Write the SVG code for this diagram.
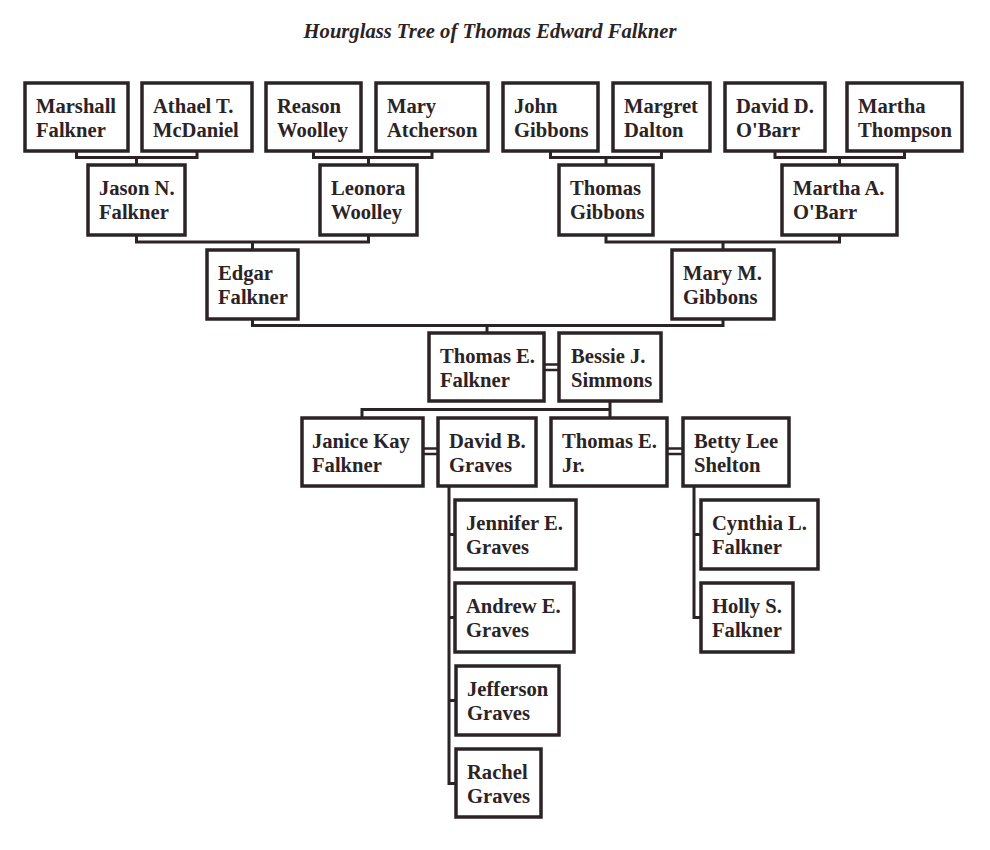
<svg xmlns="http://www.w3.org/2000/svg" width="990" height="850" viewBox="0 0 990 850">
<style>
.box{fill:#fff;stroke:#2b2325;stroke-width:3.5}
.t{font-family:"Liberation Serif","Times New Roman",serif;font-weight:bold;font-size:20.6px;fill:#2b2325}
.title{font-family:"Liberation Serif","Times New Roman",serif;font-weight:bold;font-style:italic;font-size:20.6px;fill:#2b2325}
.c{fill:none;stroke:#2b2325;stroke-width:3}
.d{fill:none;stroke:#2b2325;stroke-width:2.4}
</style>
<rect width="990" height="850" fill="#fff"/>
<text class="title" x="490" y="38" text-anchor="middle">Hourglass Tree of Thomas Edward Falkner</text>
<g id="connectors">
<path class="c" d="M76.5 151V157.5H197V151M136.5 157.5V165"/>
<path class="c" d="M313.5 151V157.5H432V151M368.5 157.5V165"/>
<path class="c" d="M550.5 151V157.5H661.5V151M606 157.5V165"/>
<path class="c" d="M775 151V157.5H904.5V151M839.5 157.5V165"/>
<path class="c" d="M136.5 235V242H368.5V235M252.5 242V250"/>
<path class="c" d="M606 235V242H839.5V235M723 242V250"/>
<path class="c" d="M252.5 319V325.5H723V319M487 325.5V333"/>
<path class="d" d="M544 364.5H559M544 370H559"/>
<path class="c" d="M610 401V409.5M362 418V409.5H610V418"/>
<path class="d" d="M423 448.5H438M423 454H438"/>
<path class="d" d="M667 448.5H683M667 454H683"/>
<path class="c" d="M449 486V783.5H456M449 534.5H455M449 617.5H455M449 700.5H456"/>
<path class="c" d="M694 486V617.5H701M694 534.5H701"/>
</g>
<g id="marshall"><rect class="box" x="25" y="83" width="103" height="68"/><text class="t" x="36" y="112.5">Marshall</text><text class="t" x="36" y="136.5">Falkner</text></g>
<g id="athael"><rect class="box" x="142" y="83" width="110" height="68"/><text class="t" x="153" y="112.5">Athael T.</text><text class="t" x="153" y="136.5">McDaniel</text></g>
<g id="reason"><rect class="box" x="266" y="83" width="95" height="68"/><text class="t" x="277" y="112.5">Reason</text><text class="t" x="277" y="136.5">Woolley</text></g>
<g id="mary-atcherson"><rect class="box" x="376" y="83" width="112" height="68"/><text class="t" x="387" y="112.5">Mary</text><text class="t" x="387" y="136.5">Atcherson</text></g>
<g id="john"><rect class="box" x="503" y="83" width="95" height="68"/><text class="t" x="514" y="112.5">John</text><text class="t" x="514" y="136.5">Gibbons</text></g>
<g id="margret"><rect class="box" x="613" y="83" width="97" height="68"/><text class="t" x="624" y="112.5">Margret</text><text class="t" x="624" y="136.5">Dalton</text></g>
<g id="david-obarr"><rect class="box" x="725" y="83" width="100" height="68"/><text class="t" x="736" y="112.5">David D.</text><text class="t" x="736" y="136.5">O'Barr</text></g>
<g id="martha-thompson"><rect class="box" x="847" y="83" width="115" height="68"/><text class="t" x="858" y="112.5">Martha</text><text class="t" x="858" y="136.5">Thompson</text></g>
<g id="jason"><rect class="box" x="88" y="165" width="97" height="70"/><text class="t" x="99" y="194.5">Jason N.</text><text class="t" x="99" y="218.5">Falkner</text></g>
<g id="leonora"><rect class="box" x="320" y="165" width="97" height="70"/><text class="t" x="331" y="194.5">Leonora</text><text class="t" x="331" y="218.5">Woolley</text></g>
<g id="thomas-gibbons"><rect class="box" x="559" y="165" width="94" height="70"/><text class="t" x="570" y="194.5">Thomas</text><text class="t" x="570" y="218.5">Gibbons</text></g>
<g id="martha-obarr"><rect class="box" x="782" y="165" width="115" height="70"/><text class="t" x="793" y="194.5">Martha A.</text><text class="t" x="793" y="218.5">O'Barr</text></g>
<g id="edgar"><rect class="box" x="207" y="250" width="91" height="69"/><text class="t" x="218" y="279.5">Edgar</text><text class="t" x="218" y="303.5">Falkner</text></g>
<g id="mary-gibbons"><rect class="box" x="672" y="250" width="102" height="69"/><text class="t" x="683" y="279.5">Mary M.</text><text class="t" x="683" y="303.5">Gibbons</text></g>
<g id="thomas-e"><rect class="box" x="429" y="333" width="115" height="68"/><text class="t" x="440" y="362.5">Thomas E.</text><text class="t" x="440" y="386.5">Falkner</text></g>
<g id="bessie"><rect class="box" x="559" y="333" width="102" height="68"/><text class="t" x="571" y="362.5">Bessie J.</text><text class="t" x="571" y="386.5">Simmons</text></g>
<g id="janice"><rect class="box" x="302" y="418" width="121" height="68"/><text class="t" x="312" y="447.5">Janice Kay</text><text class="t" x="312" y="471.5">Falkner</text></g>
<g id="david-graves"><rect class="box" x="438" y="418" width="98" height="68"/><text class="t" x="449" y="447.5">David B.</text><text class="t" x="449" y="471.5">Graves</text></g>
<g id="thomas-jr"><rect class="box" x="551" y="418" width="116" height="68"/><text class="t" x="562" y="447.5">Thomas E.</text><text class="t" x="562" y="471.5">Jr.</text></g>
<g id="betty"><rect class="box" x="683" y="418" width="106" height="68"/><text class="t" x="694" y="447.5">Betty Lee</text><text class="t" x="694" y="471.5">Shelton</text></g>
<g id="jennifer"><rect class="box" x="455" y="500" width="121" height="69"/><text class="t" x="466" y="529.5">Jennifer E.</text><text class="t" x="466" y="553.5">Graves</text></g>
<g id="andrew"><rect class="box" x="455" y="583" width="119" height="69"/><text class="t" x="466" y="612.5">Andrew E.</text><text class="t" x="466" y="636.5">Graves</text></g>
<g id="jefferson"><rect class="box" x="456" y="666" width="103" height="69"/><text class="t" x="467" y="695.5">Jefferson</text><text class="t" x="467" y="719.5">Graves</text></g>
<g id="rachel"><rect class="box" x="456" y="749" width="85" height="68"/><text class="t" x="467" y="778.5">Rachel</text><text class="t" x="467" y="802.5">Graves</text></g>
<g id="cynthia"><rect class="box" x="701" y="500" width="117" height="69"/><text class="t" x="712" y="529.5">Cynthia L.</text><text class="t" x="712" y="553.5">Falkner</text></g>
<g id="holly"><rect class="box" x="701" y="583" width="92" height="69"/><text class="t" x="712" y="612.5">Holly S.</text><text class="t" x="712" y="636.5">Falkner</text></g>
</svg>
